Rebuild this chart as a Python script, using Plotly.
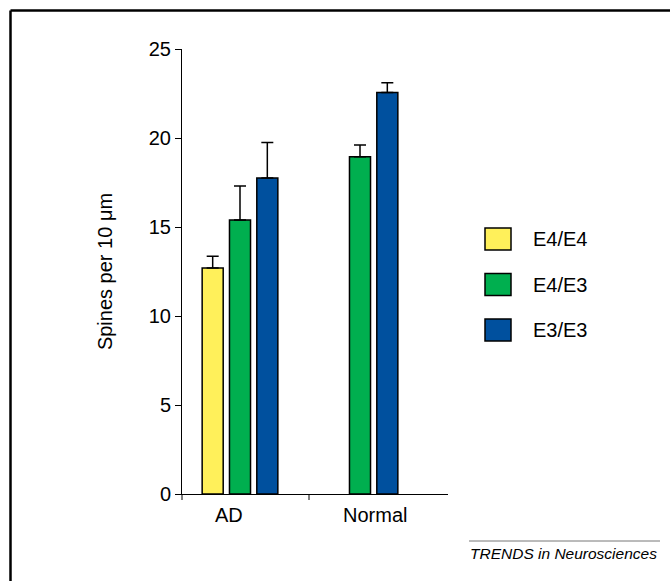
import plotly.graph_objects as go

categories = ["AD", "Normal"]
genotypes = ["E4/E4", "E4/E3", "E3/E3"]
values = {
    "E4/E4": [12.7, None],
    "E4/E3": [15.4, 18.95],
    "E3/E3": [17.75, 22.55],
}
errors = {
    "E4/E4": [0.65, None],
    "E4/E3": [1.9, 0.65],
    "E3/E3": [2.0, 0.55],
}
colors = {"E4/E4": "#FFF05A", "E4/E3": "#00AF4F", "E3/E3": "#00509E"}
y_ticks = [0, 5, 10, 15, 20, 25]

FONT = "Liberation Sans, Arial, sans-serif"

fig = go.Figure()
for g in genotypes:
    fig.add_trace(go.Bar(
        x=categories, y=values[g], name=g, showlegend=False,
        marker=dict(color=colors[g], line=dict(color="black", width=1.5)),
        error_y=dict(type="data", array=errors[g], arrayminus=[0, 0],
                     symmetric=False, color="black", thickness=1.5, width=6),
    ))

W, H = 670, 581
L, R, T, B = 182, 222, 49, 87
pw, ph = W - L - R, H - T - B

def px(x):
    return (x - L) / pw

def py(y):
    return (H - B - y) / ph

shapes = [
    # frame (top and left)
    dict(type="line", xref="paper", yref="paper", x0=px(10.5), x1=px(672), y0=py(10.5), y1=py(10.5),
         line=dict(color="black", width=2.5)),
    dict(type="line", xref="paper", yref="paper", x0=px(10.5), x1=px(10.5), y0=py(10.5), y1=py(583),
         line=dict(color="black", width=2.5)),
    # x-axis separator ticks
    dict(type="line", xref="paper", yref="paper", x0=px(309), x1=px(309), y0=0, y1=py(500),
         line=dict(color="black", width=1)),
    dict(type="line", xref="paper", yref="paper", x0=0, x1=0, y0=0, y1=py(500),
         line=dict(color="black", width=1)),
    # footer rule
    dict(type="line", xref="paper", yref="paper", x0=px(469), x1=px(660), y0=py(541), y1=py(541),
         line=dict(color="#777777", width=1)),
]

annotations = [dict(text="<i>TRENDS in Neurosciences</i>", xref="paper", yref="paper",
                    x=px(468), y=py(543), xanchor="left", yanchor="top",
                    showarrow=False, font=dict(size=15.5, family=FONT))]

# category labels (slightly offset as in the original figure)
label_shift = [-11, 15]
for c, s in zip(categories, label_shift):
    annotations.append(dict(text=c, xref="x", yref="paper", x=c, y=py(515),
                            xanchor="center", yanchor="middle", xshift=s,
                            showarrow=False, font=dict(size=20, family=FONT)))

# legend drawn as swatches + labels
leg_top, leg_step, box_w, box_h = 228, 45.5, 26, 22
for i, g in enumerate(genotypes):
    y0 = leg_top + i * leg_step
    shapes.append(dict(type="rect", xref="paper", yref="paper",
                       x0=px(485), x1=px(485 + box_w), y0=py(y0), y1=py(y0 + box_h),
                       fillcolor=colors[g], line=dict(color="black", width=1.5)))
    annotations.append(dict(text=g, xref="paper", yref="paper", x=px(531),
                            y=py(y0 + box_h / 2), xanchor="left", yanchor="middle",
                            showarrow=False, font=dict(size=20, family=FONT)))

fig.update_layout(
    width=W, height=H,
    margin=dict(l=L, r=R, t=T, b=B),
    paper_bgcolor="white", plot_bgcolor="white",
    font=dict(family=FONT, size=20, color="black"),
    barmode="group", bargap=0.317, bargroupgap=0.23,
    showlegend=False,
    xaxis=dict(type="category", range=[-0.4833, 1.7333], showline=True, linecolor="black",
               linewidth=1, ticks="", showgrid=False, zeroline=False,
               showticklabels=False),
    yaxis=dict(range=[0, 25], tickvals=y_ticks, showline=True, linecolor="black",
               linewidth=1, ticks="outside", ticklen=6, tickcolor="black",
               showgrid=False, zeroline=False, tickfont=dict(size=20),
               title=dict(text="Spines per 10 μm", font=dict(size=20), standoff=30)),
    shapes=shapes,
    annotations=annotations,
)

fig.write_html("out.html", config={"displayModeBar": False},
               post_script="document.body.style.margin='0';")
